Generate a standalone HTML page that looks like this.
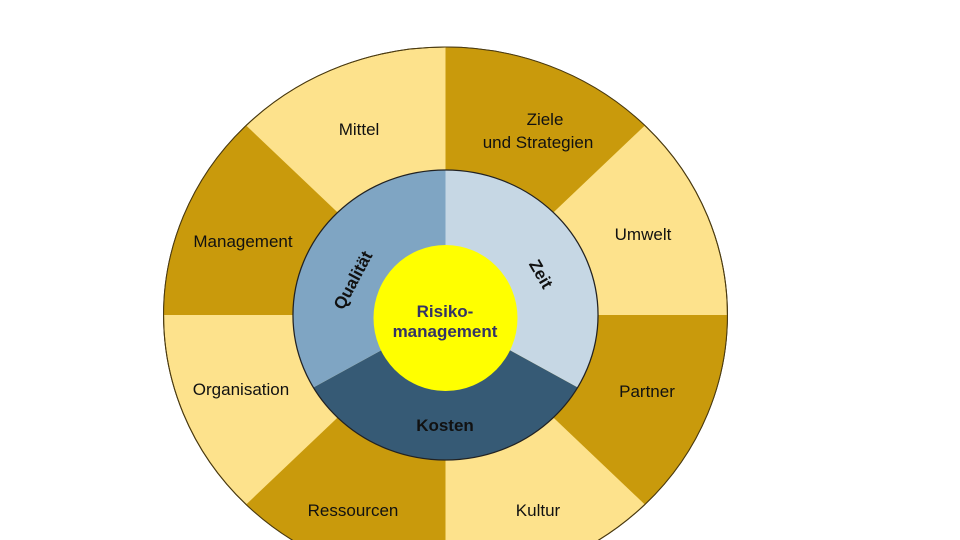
<!DOCTYPE html>
<html><head><meta charset="utf-8"><style>
html,body{margin:0;padding:0;background:#fff;width:960px;height:540px;overflow:hidden;}
svg{display:block;font-family:"Liberation Sans",Arial,sans-serif;}
</style></head><body>
<svg width="960" height="540" viewBox="0 0 960 540" xmlns="http://www.w3.org/2000/svg">
<g transform="translate(445.5,315) scale(1.052,1)">
<circle r="268" fill="#FDE28C" stroke="#4a3a10" stroke-width="1"/>
<path d="M0,0 L0,-268 A268,268 0 0 1 189.5,-189.5 Z" fill="#C99A0C"/>
<path d="M0,0 L268,0 A268,268 0 0 1 189.5,189.5 Z" fill="#C99A0C"/>
<path d="M0,0 L0,268 A268,268 0 0 1 -189.5,189.5 Z" fill="#C99A0C"/>
<path d="M0,0 L-268,0 A268,268 0 0 1 -189.5,-189.5 Z" fill="#C99A0C"/>
<circle r="268" fill="none" stroke="#4a3a10" stroke-width="1"/>
<path d="M0,0 L0,-145 A145,145 0 0 1 125.6,72.5 Z" fill="#C6D7E4"/>
<path d="M0,0 L125.6,72.5 A145,145 0 0 1 -125.6,72.5 Z" fill="#365A75"/>
<path d="M0,0 L-125.6,72.5 A145,145 0 0 1 0,-145 Z" fill="#7FA5C3"/>
<circle r="145" fill="none" stroke="#222" stroke-width="1.2"/>
</g>
<ellipse cx="445.5" cy="318" rx="72" ry="73" fill="#FFFF00"/>
<g font-size="17" fill="#111" text-anchor="middle">
<text x="359" y="135">Mittel</text>
<text x="545" y="125">Ziele</text>
<text x="538" y="148">und Strategien</text>
<text x="643" y="240">Umwelt</text>
<text x="647" y="397">Partner</text>
<text x="538" y="516">Kultur</text>
<text x="353" y="516">Ressourcen</text>
<text x="241" y="395">Organisation</text>
<text x="243" y="247">Management</text>
</g>
<g font-size="17" font-weight="bold" text-anchor="middle">
<text x="445" y="431" fill="#111">Kosten</text>
<text x="445" y="317" fill="#333366">Risiko-</text>
<text x="445" y="337" fill="#333366">management</text>
<text transform="translate(358,283) rotate(-62)" fill="#111">Qualität</text>
<text transform="translate(536,277) rotate(60)" fill="#111">Zeit</text>
</g>
</svg>
</body></html>
